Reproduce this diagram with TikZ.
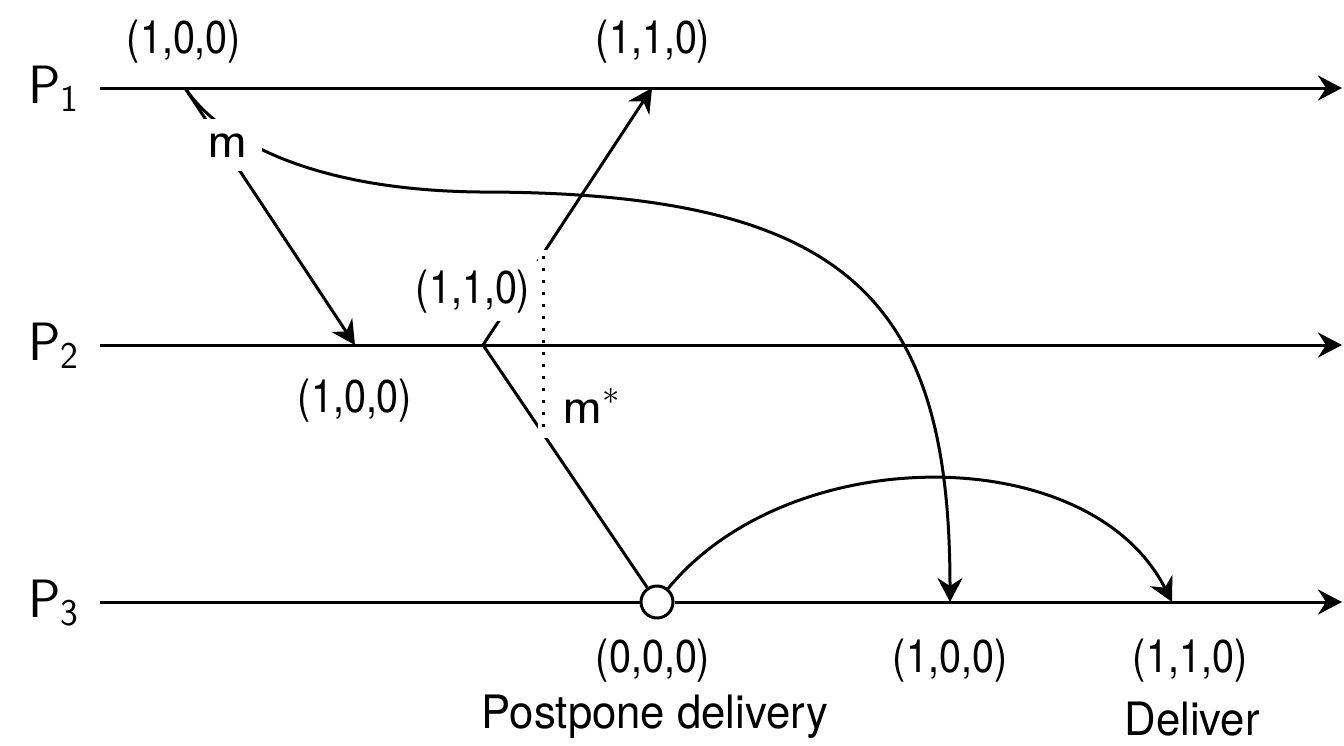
\documentclass[tikz,border=0pt]{standalone}
\usepackage{fontspec}
\setmainfont{TeX Gyre Heros}
\newfontfamily\vecfont[FakeStretch=0.86]{TeX Gyre Heros}
\newfontfamily\notefont[FakeStretch=0.95]{TeX Gyre Heros}
\usetikzlibrary{arrows.meta, positioning}

\begin{document}
\begin{tikzpicture}[x=0.5pt, y=-0.5pt,
    tip/.style={-{Stealth[length=12pt, width=12.5pt, inset=4pt]}},
    msg/.style={tip, line width=1.5pt},
    axis/.style={line width=1.5pt},
    proc/.style={font=\fontsize{27}{32}\selectfont, anchor=base east, inner sep=0pt},
    vec/.style={font=\vecfont\fontsize{23}{27}\selectfont, anchor=base},
    note/.style={font=\notefont\fontsize{23}{27}\selectfont, anchor=base},
    evt/.style={draw, circle, fill=white, line width=1.5pt, minimum size=16pt, inner sep=0pt}]
    \useasboundingbox (0,0) rectangle (1344,745);

    % Events
    \coordinate (s1) at (185,88);
    \coordinate (r2) at (355,345);
    \coordinate (s2) at (483,345);
    \coordinate (r1) at (652,88);
    \coordinate (r3) at (950,602);
    \coordinate (d3) at (1172,602);
    \node[evt] (pd) at (657,602) {};

    % Messages
    \draw[msg] (s1) -- (r2);
    \draw[msg] (s1) .. controls (215,133) and (300,190) .. (480,192) .. controls (850,192) and (950,300) .. (r3);
    \draw[msg] (s2) -- (r1);
    \draw[line width=1.5pt] (s2) -- (pd);
    \draw[msg] (pd) .. controls (790,440) and (1090,440) .. (d3);

    % Cut
    \coordinate (dtop) at (543,256);
    \coordinate (dbot) at (543,432);
    \draw[line width=1.5pt, dash pattern=on 1.5pt off 4.5pt,
          preaction={draw=white, line width=5pt, dash pattern=, shorten <=-3pt, shorten >=-3pt}] (dtop) -- (dbot);

    % Processes
    \draw[axis, tip] (100,88) -- (1342,88);
    \draw[axis, tip] (100,345) -- (1342,345);
    \draw[axis] (100,602) -- (pd.west);
    \draw[axis, tip] (pd.east) -- (1342,602);
    \node[proc] (p1) at (80,103) {$\mathsf{P}_{\mathsf{1}}$};
    \node[proc] (p2) at (80,360) {$\mathsf{P}_{\mathsf{2}}$};
    \node[proc] (p3) at (80,617) {$\mathsf{P}_{\mathsf{3}}$};

    % Labels
    \node[font=\sffamily\fontsize{27}{32}\selectfont, fill=white, inner sep=7pt, anchor=base] (m) at (228,157) {m};
    \node[font=\sffamily\fontsize{27}{32}\selectfont, anchor=base west, inner sep=0pt] (ms) at (562,423) {m$^*$};
    \node[vec] (v1) at (184,53) {(1,0,0)};
    \node[vec] (v2) at (653,53) {(1,1,0)};
    \node[vec, fill=white, inner sep=4pt] (v3) at (473,303) {(1,1,0)};
    \node[vec] (v4) at (355,412) {(1,0,0)};
    \node[vec] (v5) at (653,672) {(0,0,0)};
    \node[vec] (v6) at (950,672) {(1,0,0)};
    \node[vec] (v7) at (1190,672) {(1,1,0)};
    \node[note] (t1) at (655,728) {Postpone delivery};
    \node[note] (t2) at (1192,735) {Deliver};
\end{tikzpicture}
\end{document}
